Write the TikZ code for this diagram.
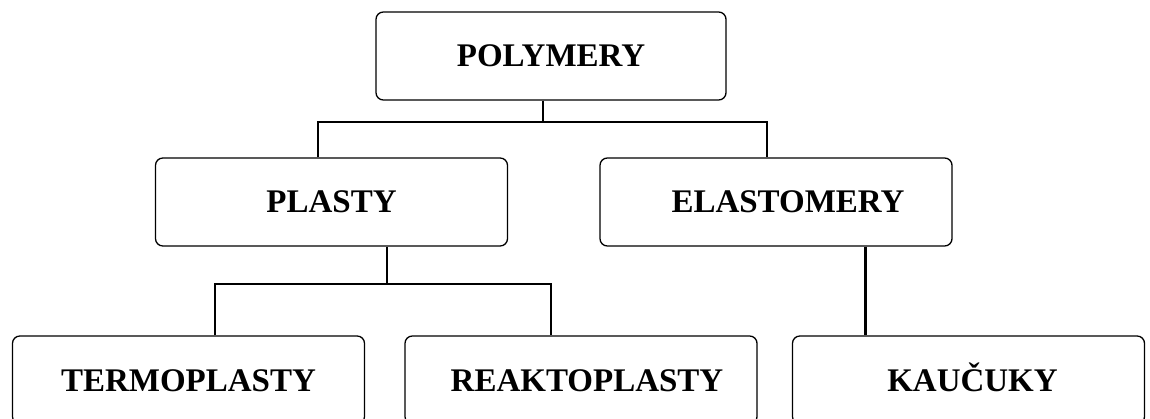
\documentclass[tikz,border=0pt]{standalone}
\usepackage{fontspec}
\setmainfont{Liberation Serif}
\usepackage{tikz}
\usetikzlibrary{positioning}
\tikzstyle{line} = [line width=2.8pt]

\begin{document}
\begin{tikzpicture} [
    x=1pt,y=1pt,
    box/.style={rectangle,draw,line width=1.3pt,rounded corners=1.6ex,
      minimum width=352pt,minimum height=88pt,inner sep=0pt,
      text height=22pt,text depth=0pt,
      font=\fontsize{33}{36}\selectfont\bfseries},
    ]
    \useasboundingbox (0,0) rectangle (1150,-419);
    \clip (0,0) rectangle (1150,-419);

    \node [box,minimum width=350pt] (A) at (551,-56) {POLYMERY};
    \path (A) ++(-219.5,-146) node [box] (B) {PLASTY};
    \path (A) ++(225,-146) node [box] (C) {\hspace*{24pt}ELASTOMERY};
    \path (B) ++(-143,-178) node [box] (D) {TERMOPLASTY};
    \path (B) ++(249.5,-178) node [box] (E) {\hspace*{12pt}REAKTOPLASTY};
    \path (C) ++(192.5,-178) node [box] (F) {\hspace*{8pt}KAUČUKY};

    \coordinate (AB) at (543,-122);
    \coordinate (BD) at (387,-284);

    \draw[line] ([xshift=-8pt]A.south) -- (AB);
    \draw[line] ([xshift=-13.5pt]B.north) |- (AB) -| ([xshift=-9pt]C.north);
    \draw[line] ([xshift=55.5pt]B.south) -- (BD);
    \draw[line] ([xshift=26.5pt]D.north) |- (BD) -| ([xshift=-30pt]E.north);
    \draw[line] ([xshift=89.5pt]C.south) -- ([xshift=-103pt]F.north);
\end{tikzpicture}
\end{document}
